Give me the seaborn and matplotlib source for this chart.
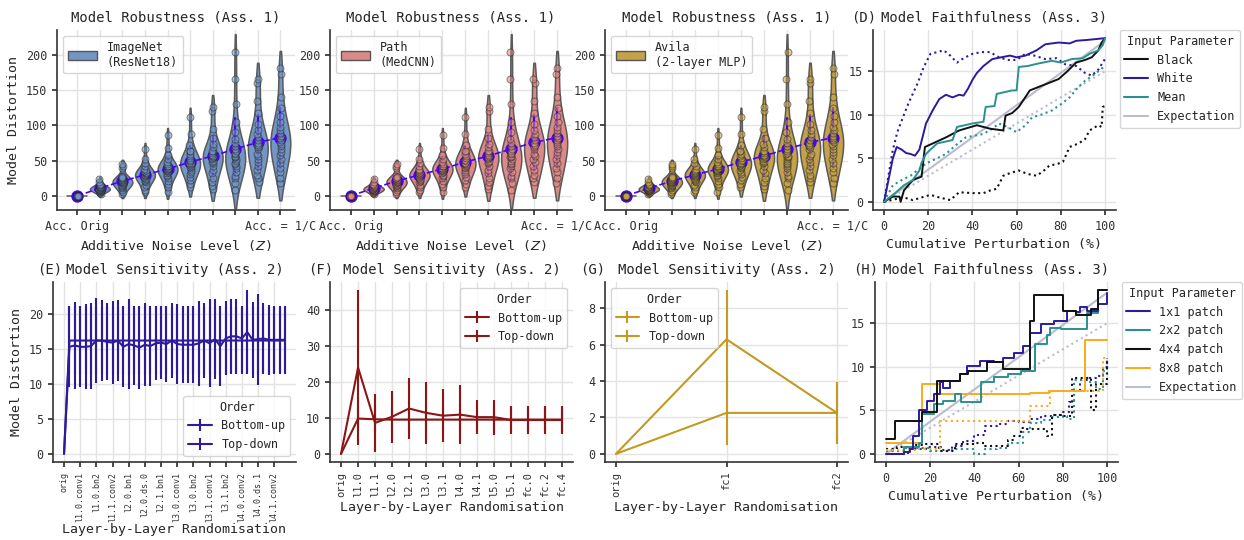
import numpy as np
import pandas as pd
import matplotlib
matplotlib.use("Agg")
import matplotlib.pyplot as plt
from matplotlib.patches import Patch
from matplotlib.lines import Line2D
import seaborn as sns

# ---------------- data ----------------
noise_levels = ["z0", "z1", "z2", "z3", "z4", "z5", "z6", "z7", "z8", "z9"]
noise_tick_labels = ["Acc. Orig", "", "", "", "", "", "", "", "", "Acc. = 1/C"]
distortion_samples = {
    "z0": [0] * 24,
    "z1": [2, 4, 5, 6, 7, 7, 8, 8, 9, 9, 10, 10, 10, 11, 11, 12, 12, 13, 14, 15, 16, 17, 20, 24],
    "z2": [3, 6, 9, 11, 13, 14, 15, 16, 17, 18, 19, 19, 20, 21, 22, 23, 24, 26, 28, 25, 27, 39, 42, 45],
    "z3": [5, 9, 13, 16, 19, 21, 23, 24, 26, 27, 28, 29, 30, 31, 32, 32, 34, 35, 36, 38, 42, 46, 52, 67],
    "z4": [6, 12, 17, 21, 25, 28, 30, 32, 34, 35, 36, 37, 38, 39, 40, 42, 42, 43, 45, 48, 52, 58, 68, 86],
    "z5": [12, 17, 22, 27, 31, 34, 37, 39, 41, 43, 44, 45, 46, 47, 49, 51, 53, 56, 59, 63, 64, 72, 88, 112],
    "z6": [10, 14, 20, 26, 32, 37, 43, 46, 48, 50, 52, 53, 55, 57, 58, 61, 64, 64, 69, 74, 82, 95, 120, 126],
    "z7": [8, 18, 26, 28, 34, 39, 43, 45, 47, 50, 52, 55, 55, 57, 59, 61, 64, 67, 70, 75, 80, 90, 105, 130, 166, 204],
    "z8": [20, 25, 30, 36, 42, 48, 52, 56, 60, 67, 70, 72, 69, 72, 75, 79, 83, 88, 94, 102, 118, 135, 160, 166],
    "z9": [18, 26, 34, 40, 46, 52, 58, 62, 66, 70, 73, 76, 79, 82, 85, 89, 93, 98, 105, 113, 125, 140, 172, 181],
}
datasets = ["ImageNet\n(ResNet18)", "Path\n(MedCNN)", "Avila\n(2-layer MLP)"]
dataset_colors = ["#7396c4", "#dc8a88", "#c3a24a"]

# Sensitivity (E)
E_layers = ["orig", "conv1", "bn1", "l1.0.conv1", "l1.0.bn1", "l1.0.conv2", "l1.0.bn2",
            "l1.1.conv1", "l1.1.bn1", "l1.1.conv2", "l1.1.bn2", "l2.0.conv1", "l2.0.bn1",
            "l2.0.conv2", "l2.0.bn2", "l2.0.ds.0", "l2.0.ds.1", "l2.1.conv1", "l2.1.bn1",
            "l2.1.conv2", "l2.1.bn2", "l3.0.conv1", "l3.0.bn1", "l3.0.conv2", "l3.0.bn2",
            "l3.0.ds.0", "l3.0.ds.1", "l3.1.conv1", "l3.1.bn1", "l3.1.conv2", "l3.1.bn2",
            "l4.0.conv1", "l4.0.bn1", "l4.0.conv2", "l4.0.bn2", "l4.0.ds.0", "l4.0.ds.1",
            "l4.1.conv1", "l4.1.bn1", "l4.1.conv2", "l4.1.bn2", "fc"]
E_bu_mean = [0, 15.3, 15.5, 15.3, 15.3, 15.4, 16.2, 16.2, 16.0, 15.9, 16.2, 15.3, 15.7, 15.5,
             15.2, 15.6, 15.4, 15.8, 15.9, 15.7, 16.2, 15.7, 15.6, 15.6, 15.6, 15.8, 16.2, 15.8,
             16.4, 15.4, 16.5, 16.8, 16.8, 16.5, 17.4, 16.3, 16.4, 16.5, 16.3, 16.3, 16.3, 16.3]
E_bu_sd = [0, 5.8, 6.2, 5.8, 6.1, 6.1, 6.1, 5.8, 5.5, 5.9, 5.8, 5.8, 6.4, 5.6, 5.9, 5.9, 5.7,
           5.3, 5.2, 5.4, 5.3, 5.7, 5.5, 5.5, 5.5, 6.1, 5.3, 6.3, 5.7, 5.7, 5.3, 5.3, 5.3, 4.6,
           6.0, 5.4, 6.5, 5.0, 5.0, 4.8, 4.8, 4.8]
E_td_mean = [0] + [16.2] * 41
E_td_sd = [0] + [4.8] * 41

# Sensitivity (F)
F_layers = ["orig", "l1.0", "l1.1", "l2.0", "l2.1", "l3.0", "l3.1", "l4.0", "l4.1", "l5.0",
            "l5.1", "fc.0", "fc.2", "fc.4"]
F_bu_mean = [0, 24.0, 8.6, 10.3, 12.6, 11.4, 10.6, 10.9, 10.2, 10.2, 9.4, 9.4, 9.4, 9.4]
F_bu_sd = [0, 21.5, 8.0, 7.3, 8.5, 8.6, 7.4, 8.3, 4.7, 4.9, 3.8, 3.8, 3.8, 3.8]
F_td_mean = [0, 9.8, 9.6, 9.5, 9.5, 9.5, 9.5, 9.5, 9.5, 9.5, 9.5, 9.5, 9.5, 9.5]
F_td_sd = [0, 3.5, 3.5, 3.5, 3.5, 3.5, 3.5, 3.5, 3.5, 3.5, 3.5, 3.5, 3.5, 3.5]

# Sensitivity (G)
G_layers = ["orig", "fc1", "fc2"]
G_bu_mean = [0, 6.3, 2.25]
G_bu_sd = [0, 2.7, 1.7]
G_td_mean = [0, 2.25, 2.25]
G_td_sd = [0, 1.75, 1.7]

# Faithfulness (D)
D_black_x = [0, 4, 7, 7.5, 9, 13, 17, 18.5, 22, 28, 34, 38, 42, 48, 54, 55, 58, 61, 66, 72, 79, 83, 87, 91, 94, 97, 98.5, 100]
D_black_y = [0, 0.6, 0.6, 0, 1.3, 2.5, 2.9, 6.3, 6.7, 7.4, 8.2, 8.5, 8.8, 8.4, 8.2, 9.9, 10.2, 10.9, 12.8, 13.4, 14.1, 15.0, 16, 16.3, 16.6, 17.4, 18.3, 18.8]
D_black_rand_x = [0, 5, 9, 13, 17, 21, 25, 30, 34, 40, 45, 48, 51, 54, 57, 61, 65, 69, 72, 75, 78, 81, 84, 88, 91, 93, 95, 97, 98.5, 99, 100]
D_black_rand_y = [0, 0.3, 0.5, 0.2, 0.5, 0.8, 0.5, 0.2, 1.1, 1.0, 1.0, 1.3, 1.5, 3.0, 3.3, 3.6, 3.2, 3.0, 3.5, 4.2, 4.3, 4.6, 6.3, 6.7, 7.2, 8.2, 8.5, 8.8, 8.6, 10.9, 11.0]
D_white_x = [0, 2, 4, 5.7, 8, 10, 12, 14, 16, 19, 22, 25, 28, 31, 34, 36, 38, 40, 42, 45, 49, 53, 57, 60, 64, 69, 73, 79, 84, 87, 92, 96, 100]
D_white_y = [0, 2.5, 5, 6.3, 6.0, 5.6, 5.5, 5.3, 6.0, 9, 10.5, 11.8, 12.3, 12, 12.3, 12.2, 13, 14, 14.8, 15.6, 16.4, 16.6, 16.8, 16.6, 16.8, 17.4, 18.1, 18.3, 18.2, 18.5, 18.6, 18.7, 18.8]
D_white_rand_x = [0, 2, 4, 6, 9, 11, 13, 15, 18, 21, 24, 27, 30, 33, 36, 40, 44, 48, 52, 56, 60, 64, 68, 73, 78, 82, 87, 91, 94, 97, 100]
D_white_rand_y = [0, 3, 6, 8, 10, 11.3, 12.4, 13.5, 15.5, 17, 17.2, 17.4, 16.8, 16, 16.5, 17, 17.2, 17.2, 16.6, 16.3, 16.3, 17, 16.8, 16.4, 16.5, 15.8, 15.6, 14.8, 14.5, 15.2, 16.4]
D_mean_x = [0, 5, 9, 13, 16, 17, 19, 21, 24, 31, 32, 33, 40, 45, 46, 50, 51, 58, 60, 61, 65, 70, 76, 80, 85, 90, 93, 97, 99, 100]
D_mean_y = [0, 1, 1.9, 2.5, 3.6, 4.5, 5.5, 6.0, 6.7, 7.1, 7.8, 8.6, 9.0, 9.2, 10.9, 11.0, 12.4, 12.8, 12.8, 15.5, 15.6, 15.9, 16.2, 16.0, 16.4, 16.5, 17.0, 17.4, 18.0, 18.8]
D_mean_rand_x = [0, 4, 8, 12, 16, 19, 24, 28, 32, 37, 41, 45, 49, 52, 56, 60, 64, 67, 71, 76, 80, 84, 88, 91, 95, 100]
D_mean_rand_y = [0, 1.9, 2.5, 3.0, 3.8, 4.4, 5.0, 5.5, 6.4, 7.4, 7.6, 7.8, 8.4, 9.0, 8.6, 8.0, 8.8, 9.7, 10.0, 10.5, 11.2, 12.0, 13.2, 13.9, 14.6, 15.6]

# Faithfulness (H)
H_1x1_x = [0, 8, 11, 12, 15, 18.5, 21.5, 24.5, 26, 29, 33.6, 36.6, 42.7, 48.7, 53, 58, 62, 65, 70, 76, 82, 86, 88, 91, 96, 100]
H_1x1_y = [0, 0.2, 0.5, 2.1, 5, 6.1, 6.9, 8.2, 7.6, 8.4, 9.2, 10.1, 10.7, 10.5, 11, 11.6, 12.4, 13.9, 14.9, 15.3, 16.4, 16.3, 16.9, 16.4, 17.2, 18.5]
H_2x2_x = [0, 8, 15, 16.3, 21.5, 26, 31, 34, 43, 49, 55, 61, 67.5, 73, 74, 79, 89, 91, 96, 100]
H_2x2_y = [0, 0.8, 1.3, 4.6, 5.7, 6.1, 6.9, 5.9, 8.2, 8.8, 9.2, 9.5, 12.6, 13.7, 14.5, 14.3, 14.3, 16.2, 18.8, 18.8]
H_4x4_x = [0, 4, 16.3, 23, 33.6, 37, 45.5, 53, 65.3, 67, 80, 86, 93, 96, 100]
H_4x4_y = [1.7, 3.8, 4.8, 8.4, 9.2, 9.5, 10.5, 9.7, 15.3, 18.3, 16.4, 16.0, 16.6, 18.8, 18.8]
H_8x8_x = [0, 16.3, 24.5, 65, 73.6, 90, 100]
H_8x8_y = [1.3, 8.0, 6.9, 6.95, 7.25, 13.1, 13.1]
H_1x1_rand_x = [0, 10, 18, 25, 30, 35, 40, 45, 50, 55, 60, 65, 70, 75, 80, 83, 85, 88, 92, 95, 98, 100]
H_1x1_rand_y = [0, 0.5, 0.8, 0.4, 0.9, 1.5, 2.2, 3.2, 3.4, 3.8, 3.7, 4.0, 4.3, 4.5, 4.8, 6.0, 7.2, 8.5, 8.7, 8.9, 10, 11]
H_2x2_rand_x = [0, 8, 20, 30, 40, 45, 50, 55, 58, 62, 65, 70, 75, 80, 82, 85, 90, 95, 98, 100]
H_2x2_rand_y = [0.3, 0.7, 0.3, 0.5, 0, 0.6, 0.7, 1.2, 1.3, 2.5, 3.5, 3.9, 4.2, 4.4, 4.0, 8.5, 8.3, 7.5, 9.5, 11]
H_4x4_rand_x = [0, 5, 12, 18, 24, 31, 40, 45, 55, 58, 61, 64, 68, 73, 75, 80, 84, 90, 93, 95, 97, 100]
H_4x4_rand_y = [0.5, 0.8, 1.0, 1.1, 0.3, 1.1, 1.3, 0.9, 1.6, 2.0, 3.0, 2.8, 2.8, 2.1, 4.5, 4.3, 8.7, 8.7, 5.0, 8.0, 8.0, 10.5]
H_8x8_rand_x = [0, 15, 24.5, 65, 74, 90, 98, 100]
H_8x8_rand_y = [0.4, 0.6, 3.8, 5.5, 7.2, 7.2, 11, 11]

expect_x = [0, 100]
expect_y = [0, 18.5]
expect_rand_y = [0, 15]

# ---------------- style ----------------
sns.set_theme(style="whitegrid")
plt.rcParams["font.family"] = ["DejaVu Sans Mono", "DejaVu Sans"]
plt.rcParams.update({
    "axes.edgecolor": "#333333",
    "axes.linewidth": 1.2,
    "grid.color": "#e3e3e3",
    "grid.linewidth": 1.0,
    "xtick.bottom": True,
    "ytick.left": True,
    "xtick.major.size": 3.5,
    "ytick.major.size": 3.5,
    "xtick.color": "#333333",
    "ytick.color": "#333333",
    "xtick.labelsize": 8.5,
    "ytick.labelsize": 8.5,
    "axes.labelsize": 9.5,
    "axes.titlesize": 10,
    "legend.fontsize": 8.5,
    "legend.title_fontsize": 8.5,
    "mathtext.fontset": "dejavusans",
})

W, H = 1244, 540
fig = plt.figure(figsize=(W / 100, H / 100), dpi=100)


def add_ax(left, right, top, bottom):
    return fig.add_axes([left / W, 1 - bottom / H, (right - left) / W, (bottom - top) / H])


top_axes = [add_ax(57, 295, 30, 210), add_ax(330, 572, 30, 210), add_ax(605, 848, 30, 210)]
axD = add_ax(873, 1116, 30, 210)
axE = add_ax(53, 296, 282, 462)
axF = add_ax(330, 573, 282, 462)
axG = add_ax(605, 848, 282, 462)
axH = add_ax(875, 1118, 282, 462)

# ---------------- top row: robustness ----------------
rows = []
for lvl in noise_levels:
    for v in distortion_samples[lvl]:
        rows.append({"level": lvl, "distortion": v})
df = pd.DataFrame(rows)

for i, (ax, label, color) in enumerate(zip(top_axes, datasets, dataset_colors)):
    sns.violinplot(data=df, x="level", y="distortion", order=noise_levels, color=color,
                   inner=None, density_norm="width", width=0.88, linewidth=1.1, cut=1.1,
                   linecolor="#5a5a5a", saturation=1, ax=ax)
    sns.stripplot(data=df, x="level", y="distortion", order=noise_levels, color=color,
                  edgecolor="#2a2a2a", linewidth=0.7, size=5, alpha=0.55, jitter=0.035, ax=ax)
    sns.pointplot(data=df, x="level", y="distortion", order=noise_levels, color="#4a00ff",
                  errorbar="sd", linestyle="--", markersize=8, linewidth=1.2,
                  err_kws={"linestyle": "-", "linewidth": 1.5}, ax=ax)
    ax.set_xlim(-0.9, 9.65)
    ax.set_ylim(-20, 235)
    ax.set_yticks([0, 50, 100, 150, 200])
    ax.set_xticks(range(len(noise_levels)))
    ax.set_xticklabels(noise_tick_labels)
    ax.set_xlabel("Additive Noise Level ($Z$)")
    ax.set_ylabel("Model Distortion" if i == 0 else "")
    ax.set_title("Model Robustness (Ass. 1)")
    ax.legend(handles=[Patch(facecolor=color, edgecolor="#555555", label=label)],
              loc="upper left", handlelength=2.5)
    ax.grid(True, axis="both")
    sns.despine(ax=ax)

# ---------------- D: faithfulness ----------------
c_black, c_white, c_mean, c_exp = "#111111", "#2d1b9c", "#2b918f", "#b9bdcc"
sns.lineplot(x=expect_x, y=expect_y, color=c_exp, linewidth=1.5, ax=axD)
sns.lineplot(x=expect_x, y=expect_rand_y, color=c_exp, linewidth=1.5, linestyle=":", ax=axD)
for xs, ys, c in [(D_black_rand_x, D_black_rand_y, c_black), (D_white_rand_x, D_white_rand_y, c_white),
                  (D_mean_rand_x, D_mean_rand_y, c_mean)]:
    sns.lineplot(x=xs, y=ys, color=c, linewidth=1.5, linestyle=":", sort=False, estimator=None, ax=axD)
for xs, ys, c in [(D_black_x, D_black_y, c_black), (D_white_x, D_white_y, c_white),
                  (D_mean_x, D_mean_y, c_mean)]:
    sns.lineplot(x=xs, y=ys, color=c, linewidth=1.4, sort=False, estimator=None, ax=axD)
axD.set_yticks([0, 5, 10, 15])
axD.set_xticks([0, 20, 40, 60, 80, 100])
axD.set_xlabel("Cumulative Perturbation (%)")
axD.set_title("Model Faithfulness (Ass. 3)")
axD.legend(handles=[Line2D([], [], color=c_black, lw=1.5, label="Black"),
                    Line2D([], [], color=c_white, lw=1.5, label="White"),
                    Line2D([], [], color=c_mean, lw=1.5, label="Mean"),
                    Line2D([], [], color=c_exp, lw=1.5, label="Expectation")],
           title="Input Parameter", loc="upper left", bbox_to_anchor=(1.0, 1.02), borderaxespad=0.3)
sns.despine(ax=axD)

# ---------------- H: faithfulness ----------------
c_orange = "#fbab1c"
sns.lineplot(x=expect_x, y=expect_y, color=c_exp, linewidth=1.5, ax=axH)
sns.lineplot(x=expect_x, y=expect_rand_y, color=c_exp, linewidth=1.5, linestyle=":", ax=axH)
for xs, ys, c in [(H_1x1_rand_x, H_1x1_rand_y, c_white), (H_2x2_rand_x, H_2x2_rand_y, c_mean),
                  (H_4x4_rand_x, H_4x4_rand_y, c_black), (H_8x8_rand_x, H_8x8_rand_y, c_orange)]:
    sns.lineplot(x=xs, y=ys, color=c, linewidth=1.5, linestyle=":", sort=False, estimator=None,
                 drawstyle="steps-post", ax=axH)
for xs, ys, c in [(H_8x8_x, H_8x8_y, c_orange), (H_2x2_x, H_2x2_y, c_mean),
                  (H_1x1_x, H_1x1_y, c_white), (H_4x4_x, H_4x4_y, c_black)]:
    sns.lineplot(x=xs, y=ys, color=c, linewidth=1.4, sort=False, estimator=None,
                 drawstyle="steps-post", ax=axH)
axH.set_yticks([0, 5, 10, 15])
axH.set_xticks([0, 20, 40, 60, 80, 100])
axH.set_xlabel("Cumulative Perturbation (%)")
axH.set_title("Model Faithfulness (Ass. 3)")
axH.legend(handles=[Line2D([], [], color=c_white, lw=1.5, label="1x1 patch"),
                    Line2D([], [], color=c_mean, lw=1.5, label="2x2 patch"),
                    Line2D([], [], color=c_black, lw=1.5, label="4x4 patch"),
                    Line2D([], [], color=c_orange, lw=1.5, label="8x8 patch"),
                    Line2D([], [], color=c_exp, lw=1.5, label="Expectation")],
           title="Input Parameter", loc="upper left", bbox_to_anchor=(1.0, 1.02), borderaxespad=0.3)
sns.despine(ax=axH)

# ---------------- E/F/G: sensitivity ----------------
def sensitivity(ax, layers, bu_m, bu_sd, td_m, td_sd, color, legend_loc, tick_step, tick_size):
    ax.errorbar(layers, bu_m, yerr=bu_sd, color=color, lw=1.5, elinewidth=1.5, label="Bottom-up")
    ax.errorbar(layers, td_m, yerr=td_sd, color=color, lw=1.5, elinewidth=1.5, label="Top-down")
    ax.set_xticks(range(0, len(layers), tick_step))
    ax.set_xticklabels(layers[::tick_step], rotation=90, fontsize=tick_size)
    ax.set_xlabel("Layer-by-Layer Randomisation", labelpad=3)
    ax.set_title("Model Sensitivity (Ass. 2)")
    ax.legend(title="Order", loc=legend_loc)
    sns.despine(ax=ax)


sensitivity(axE, E_layers, E_bu_mean, E_bu_sd, E_td_mean, E_td_sd, "#2d1b9c", "lower right", 3, 6)
axE.set_ylabel("Model Distortion")
axE.set_yticks([0, 5, 10, 15, 20])
axE.xaxis.labelpad = 1
sensitivity(axF, F_layers, F_bu_mean, F_bu_sd, F_td_mean, F_td_sd, "#8b1616", "upper right", 1, 7.5)
axF.set_yticks([0, 10, 20, 30, 40])
sensitivity(axG, G_layers, G_bu_mean, G_bu_sd, G_td_mean, G_td_sd, "#c39a22", "upper left", 1, 7.5)
axG.set_yticks([0, 2, 4, 6, 8])

# panel letters
for ax, letter, xf in [(axD, "(D)", 0.012), (axE, "(E)", 0.037), (axF, "(F)", 0.012),
                       (axG, "(G)", 0.0), (axH, "(H)", 0.012)]:
    ax.annotate(letter, xy=(xf, 1.0), xycoords="axes fraction", xytext=(0, 6),
                textcoords="offset points", ha="right", va="baseline", fontsize=10)

fig.savefig("out.png", dpi=100)
